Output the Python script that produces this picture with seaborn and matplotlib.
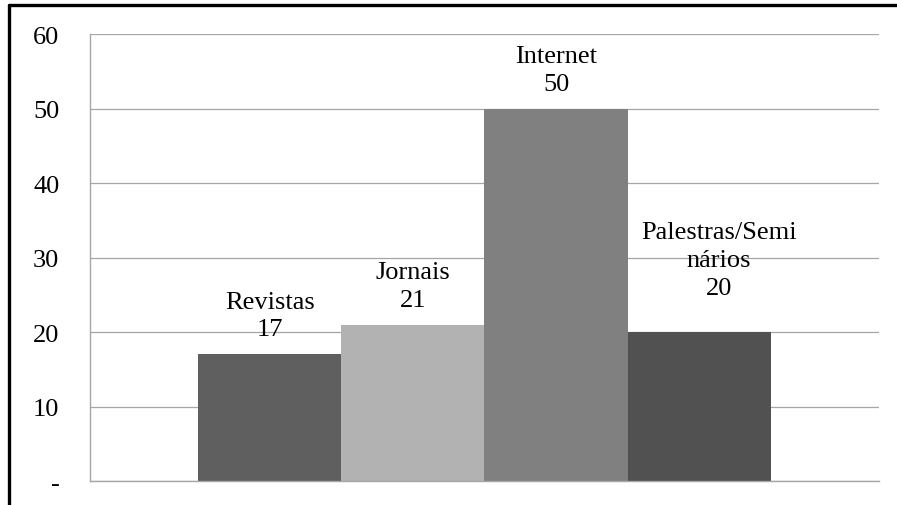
import textwrap
import matplotlib
matplotlib.use("Agg")
import matplotlib.pyplot as plt
from matplotlib.lines import Line2D
import pandas as pd
import seaborn as sns

# Sources of information and number of mentions
categories = ["Revistas", "Jornais", "Internet", "Palestras/Seminários"]
values = [17, 21, 50, 20]
bar_colors = ["#5f5f5f", "#b2b2b2", "#808080", "#515151"]
y_ticks = [0, 10, 20, 30, 40, 50, 60]
y_tick_labels = ["-", "10", "20", "30", "40", "50", "60"]

sns.set_theme(style="white")
plt.rcParams["font.family"] = ["Liberation Serif", "DejaVu Serif"]

df = pd.DataFrame({"grupo": [""] * len(categories),
                   "fonte": categories,
                   "valor": values})

fig = plt.figure(figsize=(8.97, 5.06), dpi=100)
ax = fig.add_axes([0.1003, 0.0474, 0.8796, 0.8834])

sns.barplot(data=df, x="grupo", y="valor", hue="fonte", hue_order=categories,
            palette=bar_colors, width=0.726, gap=0, dodge=True,
            saturation=1, legend=False, ax=ax, linewidth=0)

ax.set_ylim(0, 60)
ax.set_xlim(-0.5, 0.5)
ax.set_yticks(y_ticks)
ax.set_yticklabels(y_tick_labels)
ax.set_xticks([])
ax.set_xlabel("")
ax.set_ylabel("")
ax.tick_params(axis="y", length=0, pad=22, labelsize=19, labelcolor="black")

ax.yaxis.grid(True, color="#a6a6a6", linewidth=0.9)
ax.set_axisbelow(True)
for side in ["top", "right"]:
    ax.spines[side].set_visible(False)
for side in ["left", "bottom"]:
    ax.spines[side].set_color("#a6a6a6")
    ax.spines[side].set_linewidth(1.0)

# Value labels with the category name above each bar
label_offsets = {"Palestras/Seminários": (14, 14)}
bars = sorted(ax.patches, key=lambda p: p.get_x())
for bar, name, val in zip(bars, categories, values):
    text = "\n".join(textwrap.wrap(name, 14, break_long_words=True)) + f"\n{val}"
    dx, dy = label_offsets.get(name, (0, 0))
    ax.annotate(text, xy=(bar.get_x() + bar.get_width() / 2, val),
                xytext=(dx, 10 + dy), textcoords="offset points",
                ha="center", va="bottom", fontsize=19, linespacing=1.35,
                color="black")

# Outer frame lines (top and left)
fig.add_artist(Line2D([9 / 897, 1.0], [1 - 6 / 506, 1 - 6 / 506],
                      transform=fig.transFigure, color="black", linewidth=2.4))
fig.add_artist(Line2D([9 / 897, 9 / 897], [0.0, 1 - 6 / 506],
                      transform=fig.transFigure, color="black", linewidth=2.4))

fig.savefig("out.png", dpi=100)
